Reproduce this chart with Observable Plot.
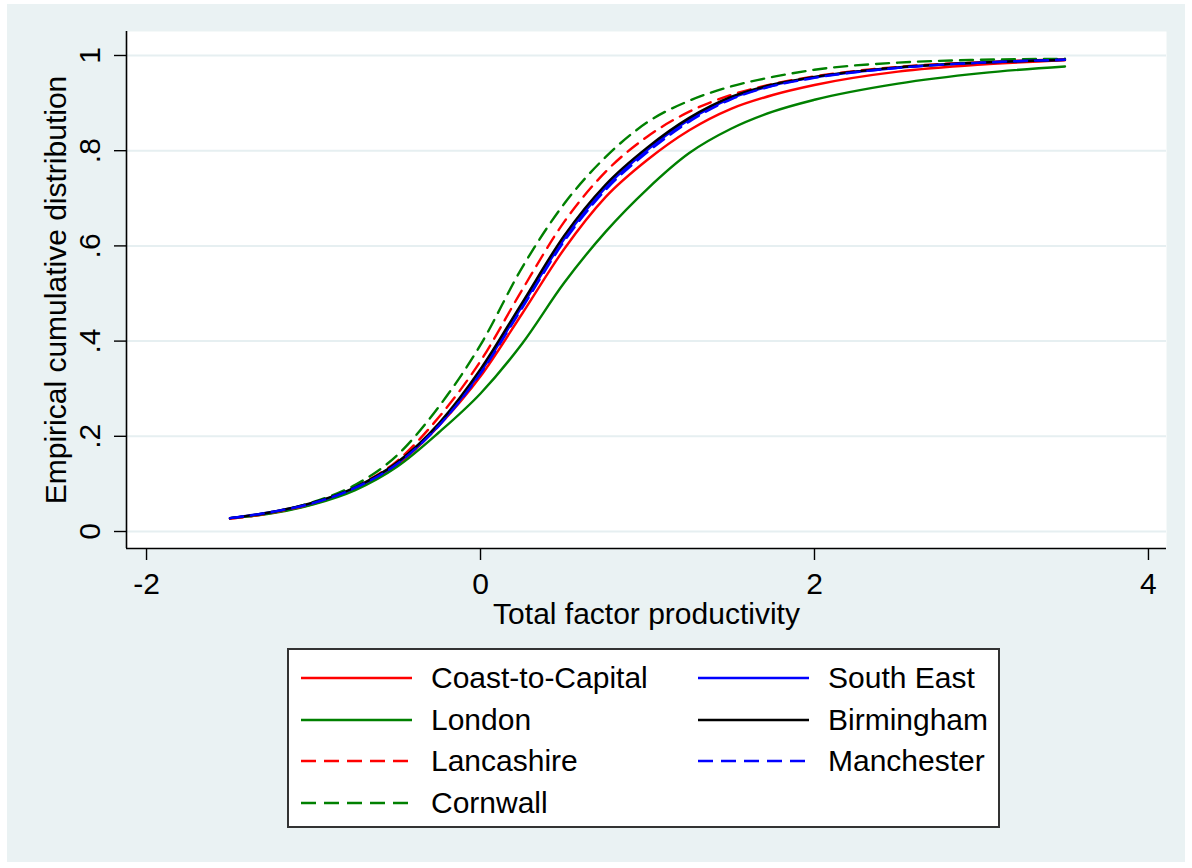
<!DOCTYPE html>
<html>
<head>
<meta charset="utf-8">
<script src="https://cdn.jsdelivr.net/npm/d3@7"></script>
<script src="https://cdn.jsdelivr.net/npm/@observablehq/plot@0.6"></script>
<style>
  html, body { margin: 0; padding: 0; background: #ffffff; }
  body { width: 1192px; height: 868px; overflow: hidden; position: relative;
         font-family: "Liberation Sans", Arial, sans-serif; }
  #frame { position: absolute; left: 7px; top: 4px; width: 1178px; height: 858px; background: #eaf2f3; }
  #chart { position: absolute; left: 0; top: 0; }
  #legend { position: absolute; left: 280px; top: 644px; width: 709px; height: 176px;
            background: #ffffff; border: 2px solid #333; box-sizing: content-box; }
  .item { position: absolute; height: 40px; display: flex; align-items: center; }
  .item span { font-size: 30px; color: #000; margin-left: 19px; line-height: 1; white-space: nowrap; }
</style>
</head>
<body>
<div id="frame">
  <div id="chart"></div>
  <div id="legend"></div>
</div>
<script>
// ---- data ----
const tfp = [-1.5, -1.25, -1, -0.75, -0.5, -0.25, 0, 0.25, 0.5, 0.75, 1, 1.25, 1.5, 1.75, 2, 2.5, 3, 3.5];

const coastToCapital = [0.027, 0.039, 0.058, 0.090, 0.140, 0.222, 0.326, 0.458, 0.593, 0.703, 0.781, 0.843, 0.888, 0.917, 0.938, 0.966, 0.981, 0.990];
const london         = [0.028, 0.038, 0.057, 0.087, 0.136, 0.208, 0.290, 0.395, 0.522, 0.630, 0.720, 0.795, 0.846, 0.882, 0.907, 0.941, 0.963, 0.977];
const lancashire     = [0.027, 0.039, 0.060, 0.094, 0.148, 0.240, 0.358, 0.508, 0.650, 0.756, 0.830, 0.882, 0.917, 0.940, 0.956, 0.976, 0.986, 0.992];
const cornwall       = [0.028, 0.040, 0.062, 0.098, 0.160, 0.262, 0.392, 0.555, 0.688, 0.787, 0.860, 0.905, 0.935, 0.955, 0.970, 0.985, 0.991, 0.993];
const southEast      = [0.028, 0.041, 0.060, 0.092, 0.143, 0.223, 0.335, 0.474, 0.614, 0.723, 0.802, 0.865, 0.910, 0.937, 0.954, 0.974, 0.985, 0.991];
const birmingham     = [0.028, 0.041, 0.061, 0.093, 0.145, 0.227, 0.341, 0.481, 0.621, 0.729, 0.807, 0.869, 0.913, 0.939, 0.955, 0.975, 0.985, 0.991];
const manchester     = [0.028, 0.041, 0.060, 0.092, 0.142, 0.222, 0.332, 0.470, 0.609, 0.718, 0.797, 0.861, 0.908, 0.936, 0.953, 0.974, 0.985, 0.991];

const seriesNames  = ["Coast-to-Capital", "London", "Lancashire", "Cornwall", "South East", "Birmingham", "Manchester"];
const seriesValues = [coastToCapital, london, lancashire, cornwall, southEast, birmingham, manchester];
const seriesColors = ["#ff0000", "#008000", "#ff0000", "#008000", "#0000ff", "#000000", "#0000ff"];
const seriesDashed = [false, false, true, true, false, false, true];

const xTicks = [-2, 0, 2, 4];
const yTicks = [0, 0.2, 0.4, 0.6, 0.8, 1];
const yTickLabels = ["0", ".2", ".4", ".6", ".8", "1"];
const xTitle = "Total factor productivity";
const yTitle = "Empirical cumulative distribution";

// ---- layout ----
const W = 1178, H = 640;
const xDomain = [-2.12, 4.108];
const yDomain = [-0.0357, 1.0504];
const FONT = "'Liberation Sans', Arial, Helvetica, sans-serif";
const DASH = "13,8";

const rows = [];
seriesNames.forEach((name, i) => {
  tfp.forEach((x, j) => rows.push({series: name, x, y: seriesValues[i][j]}));
});

const lineMarks = seriesNames.map((name, i) =>
  Plot.line(rows.filter(d => d.series === name), {
    x: "x", y: "y",
    stroke: seriesColors[i],
    strokeWidth: 2.4,
    strokeDasharray: seriesDashed[i] ? DASH : null,
    curve: "monotone-x"
  })
);

const chart = Plot.plot({
  width: W,
  height: H,
  marginLeft: 119,
  marginRight: 19,
  marginTop: 27,
  marginBottom: H - 544,
  x: {domain: xDomain},
  y: {domain: yDomain},
  style: {background: "transparent", fontFamily: FONT, fontSize: "30px", color: "#000", overflow: "visible"},
  marks: [
    Plot.frame({fill: "#ffffff", stroke: null}),
    Plot.gridY(yTicks, {stroke: "#e6eff1", strokeOpacity: 1, strokeWidth: 2}),
    ...lineMarks,
    Plot.ruleX([xDomain[0]], {stroke: "#000", strokeWidth: 1.6}),
    Plot.ruleY([yDomain[0]], {stroke: "#000", strokeWidth: 1.6}),
    Plot.axisX(xTicks, {
      tickSize: 12, tickPadding: 12, fontSize: 30, stroke: "#000", strokeWidth: 1.4,
      tickFormat: d => (d < 0 ? "-" + Math.abs(d) : String(d)), label: null
    }),
    Plot.axisY(yTicks, {
      tickSize: 12, tickFormat: () => "", stroke: "#000", strokeWidth: 1.4, label: null
    }),
    Plot.text(yTicks, {
      y: d => d, text: (d, i) => yTickLabels[i], frameAnchor: "left", dx: -36,
      rotate: -90, textAnchor: "middle", lineAnchor: "middle", fontSize: 30, fill: "#000"
    }),
    Plot.text([xTitle], {
      text: d => d, frameAnchor: "bottom", dy: 66, lineAnchor: "middle",
      textAnchor: "middle", fontSize: 30, fill: "#000"
    }),
    Plot.text([yTitle], {
      text: d => d, frameAnchor: "left", dx: -70, rotate: -90, lineAnchor: "middle",
      textAnchor: "middle", fontSize: 30, fill: "#000"
    })
  ]
});
document.getElementById("chart").appendChild(chart);

// ---- legend (two columns, column-major order) ----
const legend = document.getElementById("legend");
seriesNames.forEach((name, i) => {
  const col = Math.floor(i / 4), row = i % 4;
  const item = document.createElement("div");
  item.className = "item";
  item.style.left = (12 + col * 397) + "px";
  item.style.top = (8 + row * 41.7) + "px";
  const svg = d3.create("svg").attr("width", 111).attr("height", 10);
  svg.append("line")
    .attr("x1", 0).attr("x2", 111).attr("y1", 5).attr("y2", 5)
    .attr("stroke", seriesColors[i]).attr("stroke-width", 2.4)
    .attr("stroke-dasharray", seriesDashed[i] ? "15,8" : null);
  item.appendChild(svg.node());
  const label = document.createElement("span");
  label.textContent = name;
  item.appendChild(label);
  legend.appendChild(item);
});
</script>
</body>
</html>
